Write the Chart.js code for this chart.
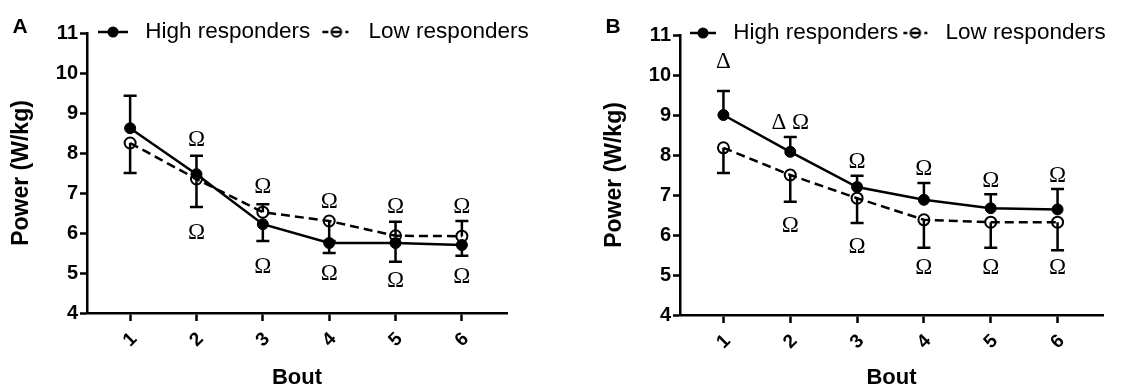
<!DOCTYPE html>
<html>
<head>
<meta charset="utf-8">
<script src="https://cdn.jsdelivr.net/npm/chart.js@4.4.0/dist/chart.umd.min.js"></script>
<style>
  html, body { margin: 0; padding: 0; background: #fff; }
  #wrap { position: relative; width: 1122px; height: 389px; overflow: hidden; }
  .panel { position: absolute; top: 0; height: 389px; }
  #pa { left: 0; width: 540px; }
  #pb { left: 593px; width: 529px; }
</style>
</head>
<body>
<div id="wrap">
  <div class="panel" id="pa"><canvas id="chartA" width="540" height="389"></canvas></div>
  <div class="panel" id="pb"><canvas id="chartB" width="529" height="389"></canvas></div>
</div>
<script>
/* Power per bout, high vs low responders (panels A and B) */
const bouts = [1, 2, 3, 4, 5, 6];
const seriesNames = ['High responders', 'Low responders'];

// Panel A
const highA = [8.62, 7.47, 6.22, 5.75, 5.75, 5.70];
const highA_sd = [0.81, 0.46, 0.42, 0.25, 0.47, 0.27];
const highA_dir = [1, 1, -1, -1, -1, -1];
const lowA = [8.25, 7.35, 6.52, 6.30, 5.93, 5.92];
const lowA_sd = [0.75, 0.70, 0.20, 0.50, 0.35, 0.38];
const lowA_dir = [-1, -1, 1, -1, 1, 1];
const marksAboveA = ['', 'Ω', 'Ω', 'Ω', 'Ω', 'Ω'];
const marksAboveA_y = [null, 8.33, 7.15, 6.78, 6.65, 6.65];
const marksBelowA = ['', 'Ω', 'Ω', 'Ω', 'Ω', 'Ω'];
const marksBelowA_y = [null, 6.0, 5.15, 4.98, 4.8, 4.9];

// Panel B
const highB = [9.0, 8.08, 7.2, 6.88, 6.67, 6.64];
const highB_sd = [0.6, 0.37, 0.28, 0.42, 0.35, 0.51];
const highB_dir = [1, 1, 1, 1, 1, 1];
const lowB = [8.18, 7.5, 6.92, 6.38, 6.32, 6.32];
const lowB_sd = [0.63, 0.67, 0.62, 0.7, 0.64, 0.7];
const lowB_dir = [-1, -1, -1, -1, -1, -1];
const marksAboveB = ['Δ', 'Δ Ω', 'Ω', 'Ω', 'Ω', 'Ω'];
const marksAboveB_y = [10.33, 8.8, 7.83, 7.65, 7.35, 7.48];
const marksBelowB = ['', 'Ω', 'Ω', 'Ω', 'Ω', 'Ω'];
const marksBelowB_y = [null, 6.22, 5.7, 5.18, 5.18, 5.18];

const SANS = '"Liberation Sans", Arial, sans-serif';
Chart.defaults.font.family = SANS;
Chart.defaults.color = '#000';

// small legend glyphs: line with marker, like the original figure
function legendIcon(open, len, w) {
  const c = document.createElement('canvas');
  c.width = w; c.height = 16;
  const g = c.getContext('2d');
  const cx = len / 2;
  g.strokeStyle = '#000';
  g.lineWidth = 2.5;
  if (!open) {
    g.beginPath(); g.moveTo(0, 8); g.lineTo(len, 8); g.stroke();
    g.beginPath(); g.arc(cx, 8, 5.5, 0, Math.PI * 2); g.fillStyle = '#000'; g.fill();
  } else {
    g.beginPath();
    g.moveTo(1, 8); g.lineTo(cx - 8, 8);
    g.moveTo(cx - 4, 8); g.lineTo(cx + 4, 8);
    g.moveTo(cx + 9, 8); g.lineTo(cx + 12, 8);
    g.stroke();
    g.lineWidth = 2;
    g.beginPath(); g.arc(cx, 8, 4.8, 0, Math.PI * 2); g.stroke();
  }
  return c;
}

const errorBars = {
  id: 'errorBars',
  beforeDatasetsDraw(chart) {
    const { ctx, scales: { x, y } } = chart;
    ctx.save();
    ctx.strokeStyle = '#000';
    ctx.lineWidth = 2.5;
    chart.data.datasets.forEach(ds => {
      ds.data.forEach((p, i) => {
        const end = p.y + ds.errDir[i] * ds.errSd[i];
        const px = x.getPixelForValue(p.x);
        const y0 = y.getPixelForValue(p.y);
        const y1 = y.getPixelForValue(end);
        ctx.beginPath();
        ctx.moveTo(px, y0); ctx.lineTo(px, y1);
        ctx.moveTo(px - 6.5, y1); ctx.lineTo(px + 6.5, y1);
        ctx.stroke();
      });
    });
    ctx.restore();
  }
};

const sigMarks = {
  id: 'sigMarks',
  afterDatasetsDraw(chart, args, o) {
    const { ctx, scales: { x, y } } = chart;
    ctx.save();
    ctx.font = '23px "Liberation Serif", "Times New Roman", serif';
    ctx.fillStyle = '#000';
    ctx.textAlign = 'center';
    ctx.textBaseline = 'middle';
    (o.sets || []).forEach(set => {
      set.text.forEach((t, i) => {
        if (!t) return;
        ctx.fillText(t, x.getPixelForValue(bouts[i]), y.getPixelForValue(set.y[i]));
      });
    });
    ctx.restore();
  }
};

const panelLetter = {
  id: 'panelLetter',
  afterDraw(chart, args, o) {
    const ctx = chart.ctx;
    ctx.save();
    ctx.font = 'bold 21px ' + SANS;
    ctx.fillStyle = '#000';
    ctx.textAlign = 'center';
    ctx.textBaseline = 'middle';
    ctx.fillText(o.text, o.x, o.y);
    ctx.restore();
  }
};

// legend sits inside the plot, level with the "11" tick
const legendPlace = {
  id: 'legendPlace',
  beforeDraw(chart, args, o) {
    const lg = chart.legend;
    if (!lg) return;
    lg.left = o.left;
    lg.right = chart.width;
    lg.width = lg.right - lg.left;
    lg.top = o.top;
    lg.bottom = o.top + 50;
    lg.height = 50;
  }
};

function makeChart(id, cfg) {
  const ds = (name, vals, sd, dir, open) => ({
    label: name,
    data: bouts.map((b, i) => ({ x: b, y: vals[i] })),
    errSd: sd,
    errDir: dir,
    borderColor: '#000',
    borderWidth: 2.5,
    borderDash: open ? [9, 5] : [],
    pointRadius: open ? 5.5 : 5.5,
    pointBorderWidth: open ? 2 : 1,
    pointBackgroundColor: open ? 'rgba(0,0,0,0)' : '#000',
    pointBorderColor: '#000',
    tension: 0,
    clip: false
  });
  const icons = [legendIcon(false, cfg.iconLen, cfg.boxW), legendIcon(true, cfg.iconLen, cfg.boxW)];
  const fontSize = 22.5;

  return new Chart(document.getElementById(id), {
    type: 'line',
    data: {
      datasets: [
        ds(seriesNames[0], cfg.high, cfg.highSd, cfg.highDir, false),
        ds(seriesNames[1], cfg.low, cfg.lowSd, cfg.lowDir, true)
      ]
    },
    options: {
      responsive: false,
      animation: false,
      layout: { padding: { top: cfg.top - 20, right: cfg.right, left: 0, bottom: 0 } },
      scales: {
        x: {
          type: 'linear',
          min: 0.35,
          max: 6.68,
          afterBuildTicks: s => { s.ticks = bouts.map(v => ({ value: v })); },
          afterFit: s => { s.height = 389 - cfg.bottom; },
          grid: { drawOnChartArea: false, tickLength: 8, tickWidth: 2.5, tickColor: '#000' },
          border: { color: '#000', width: 2.5 },
          ticks: {
            color: '#000', autoSkip: false, minRotation: 45, maxRotation: 45, padding: 7,
            labelOffset: 4,
            font: { size: 19, weight: 'bold' }
          },
          title: {
            display: true, text: 'Bout', color: '#000', padding: 0,
            font: { size: 22, weight: 'bold', lineHeight: 1 }
          }
        },
        y: {
          min: 4,
          max: 11,
          afterFit: s => { s.width = 87; },
          grid: { drawOnChartArea: false, tickLength: 7, tickWidth: 2.5, tickColor: '#000' },
          border: { color: '#000', width: 2.5 },
          ticks: { stepSize: 1, color: '#000', padding: 2, font: { size: 20, weight: 'bold' } },
          title: {
            display: true, text: 'Power (W/kg)', color: '#000', padding: { top: 8, bottom: 0 },
            font: { size: 23, weight: 'bold', lineHeight: 1.2 }
          }
        }
      },
      plugins: {
        legend: {
          position: 'top',
          align: 'start',
          maxHeight: 20,
          labels: {
            usePointStyle: true,
            pointStyleWidth: cfg.boxW,
            padding: cfg.legPad,
            color: '#000',
            font: { size: fontSize },
            generateLabels: () => seriesNames.map((t, i) => ({
              text: t, pointStyle: icons[i], datasetIndex: i, hidden: false,
              lineWidth: 0, fillStyle: '#000', strokeStyle: '#000', fontColor: '#000'
            }))
          }
        },
        tooltip: { enabled: false },
        legendPlace: { top: cfg.legCenter - cfg.legPad - fontSize / 2, left: cfg.legX - cfg.legPad },
        panelLetter: { text: cfg.letter, x: 20, y: 27 },
        sigMarks: {
          sets: [
            { text: cfg.above, y: cfg.aboveY },
            { text: cfg.below, y: cfg.belowY }
          ]
        }
      }
    },
    plugins: [errorBars, sigMarks, panelLetter, legendPlace]
  });
}

makeChart('chartA', {
  letter: 'A', top: 33, right: 33, bottom: 313,
  boxW: 36, iconLen: 30, legPad: 11, legX: 98, legCenter: 32,
  high: highA, highSd: highA_sd, highDir: highA_dir,
  low: lowA, lowSd: lowA_sd, lowDir: lowA_dir,
  above: marksAboveA, aboveY: marksAboveA_y,
  below: marksBelowA, belowY: marksBelowA_y
});

makeChart('chartB', {
  letter: 'B', top: 35, right: 19, bottom: 315,
  boxW: 32, iconLen: 26, legPad: 4, legX: 97, legCenter: 33,
  high: highB, highSd: highB_sd, highDir: highB_dir,
  low: lowB, lowSd: lowB_sd, lowDir: lowB_dir,
  above: marksAboveB, aboveY: marksAboveB_y,
  below: marksBelowB, belowY: marksBelowB_y
});
</script>
</body>
</html>
